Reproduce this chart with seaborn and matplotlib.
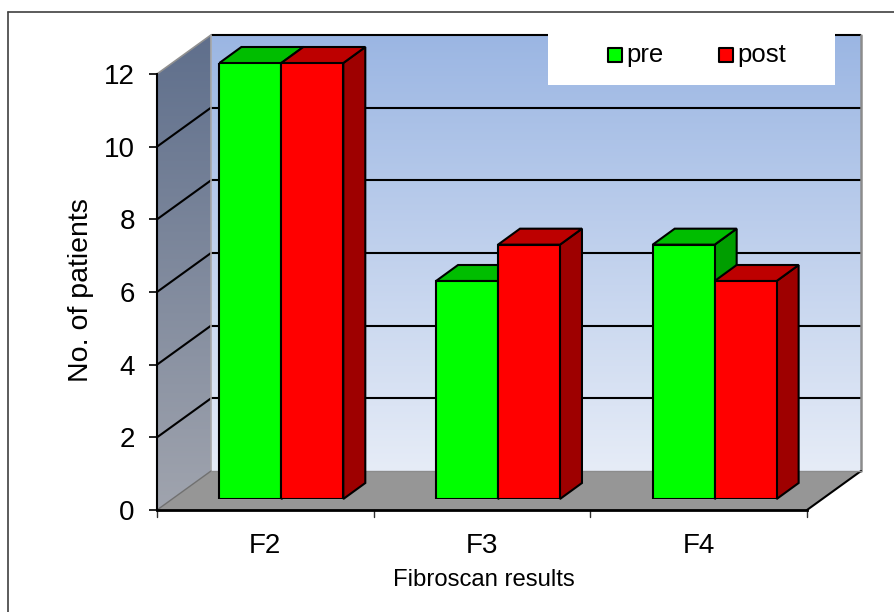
import numpy as np
import pandas as pd
import matplotlib
matplotlib.use('Agg')
import matplotlib.pyplot as plt
from matplotlib.colors import LinearSegmentedColormap
from matplotlib.patches import Polygon, Rectangle
import seaborn as sns

categories = ['F2', 'F3', 'F4']
pre_values = [12, 6, 7]
post_values = [12, 7, 6]
series_names = ['pre', 'post']
y_ticks = [0, 2, 4, 6, 8, 10, 12]

W, H = 895, 612
# передняя плоскость оси, сдвиг задней стенки и глубина столбиков, в пикселях
LEFT, RIGHT, BOTTOM, TOP = 157, 807, 510, 74
WALL_DX, WALL_DY = 54, 39
BAR_DX, BAR_DY = 16, 11
DEPTH_DX, DEPTH_DY = 22, 16

sns.set_theme(style='white')
plt.rcParams['font.family'] = ['Liberation Sans', 'DejaVu Sans']
plt.rcParams['text.color'] = 'black'
plt.rcParams['axes.labelcolor'] = 'black'
plt.rcParams['xtick.color'] = 'black'
plt.rcParams['ytick.color'] = 'black'


def px_axes(fig, x0, x1, y_bottom, y_top, **kw):
    return fig.add_axes([x0 / W, 1 - y_bottom / H, (x1 - x0) / W, (y_bottom - y_top) / H], **kw)


def darker(color, k):
    return tuple(c * k for c in matplotlib.colors.to_rgb(color))


fig = plt.figure(figsize=(W / 100, H / 100), dpi=100, facecolor='white')

# основной слой: пиксельные координаты
bg = fig.add_axes([0, 0, 1, 1], zorder=1)
bg.set_xlim(0, W)
bg.set_ylim(H, 0)
bg.axis('off')
bg.patch.set_alpha(0)

# рамка диаграммы: видны только верхний и левый края
bg.plot([8, 8], [H, 12], color='#404040', lw=1.2, zorder=1)
bg.plot([8, W], [12, 12], color='#404040', lw=1.2, zorder=1)

wall_x0, wall_x1 = LEFT + WALL_DX, RIGHT + WALL_DX
wall_top, wall_bottom = TOP - WALL_DY, BOTTOM - WALL_DY

# задняя стенка с градиентом
wall_cmap = LinearSegmentedColormap.from_list('wall', ['#9BB6E3', '#E6ECF7'])
bg.imshow(np.linspace(0, 1, 256).reshape(-1, 1), cmap=wall_cmap, aspect='auto',
          extent=(wall_x0, wall_x1, wall_bottom, wall_top), zorder=1)

# боковая стенка с градиентом
side_cmap = LinearSegmentedColormap.from_list('side', ['#5F6F8C', '#A0A4AE'])
side_img = bg.imshow(np.linspace(0, 1, 256).reshape(-1, 1), cmap=side_cmap, aspect='auto',
                     extent=(LEFT, wall_x0, BOTTOM, wall_top), zorder=1)
side_poly = Polygon([(LEFT, BOTTOM), (wall_x0, wall_bottom), (wall_x0, wall_top), (LEFT, TOP)],
                    closed=True, transform=bg.transData, fill=False, edgecolor='none')
bg.add_patch(side_poly)
side_img.set_clip_path(side_poly)
bg.set_xlim(0, W)
bg.set_ylim(H, 0)

# пол
bg.add_patch(Polygon([(LEFT, BOTTOM), (RIGHT, BOTTOM), (wall_x1, wall_bottom), (wall_x0, wall_bottom)],
                     closed=True, facecolor='#969696', edgecolor='none', zorder=2))

# сетка на стенках
unit = (BOTTOM - TOP) / max(y_ticks)
for v in y_ticks[1:]:
    y = BOTTOM - v * unit
    bg.plot([wall_x0, wall_x1], [y - WALL_DY] * 2, color='black', lw=1.5, zorder=3, solid_capstyle='butt')
    if v < max(y_ticks):
        bg.plot([LEFT, wall_x0], [y, y - WALL_DY], color='black', lw=1.5, zorder=3)

# края стенок и пола
bg.plot([LEFT, wall_x0], [TOP, wall_top], color='#909090', lw=1.2, zorder=3)
bg.plot([wall_x0, wall_x0], [wall_top, wall_bottom], color='#A8A8A8', lw=1.2, zorder=3)
bg.plot([wall_x1, wall_x1], [wall_top, wall_bottom], color='#8C8C8C', lw=1.8, zorder=3)
bg.plot([LEFT, wall_x0], [BOTTOM, wall_bottom], color='#707070', lw=1, zorder=3)
bg.plot([RIGHT, wall_x1], [BOTTOM, wall_bottom], color='black', lw=1.5, zorder=3)
bg.plot([wall_x0, wall_x1], [wall_bottom, wall_bottom], color='#8C8C8C', lw=1, zorder=3)

# столбики: та же плоскость, сдвинутая внутрь
df = pd.DataFrame({
    'category': categories * 2,
    'series': [series_names[0]] * 3 + [series_names[1]] * 3,
    'value': pre_values + post_values,
})
ax = px_axes(fig, LEFT + BAR_DX, RIGHT + BAR_DX, BOTTOM - BAR_DY, TOP - BAR_DY, zorder=2)
ax.patch.set_alpha(0)
palette = {'pre': '#00FF00', 'post': '#FF0000'}
sns.barplot(data=df, x='category', y='value', hue='series', palette=palette, width=0.572, gap=0,
            saturation=1, legend=False, edgecolor='black', linewidth=1.5, ax=ax, zorder=5)
ax.set_xlim(-0.5, 2.5)
ax.set_ylim(0, max(y_ticks))
ax.axis('off')

depth_x = DEPTH_DX * 3 / (RIGHT - LEFT)
depth_y = DEPTH_DY * max(y_ticks) / (BOTTOM - TOP)
for bar in ax.patches:
    x0, x1, h = bar.get_x(), bar.get_x() + bar.get_width(), bar.get_height()
    if h == 0:
        continue
    color = bar.get_facecolor()
    top = [(x0, h), (x1, h), (x1 + depth_x, h + depth_y), (x0 + depth_x, h + depth_y)]
    side = [(x1, 0), (x1 + depth_x, depth_y), (x1 + depth_x, h + depth_y), (x1, h)]
    ax.add_patch(Polygon(side, closed=True, facecolor=darker(color, 0.62), edgecolor='black',
                         linewidth=1.5, zorder=3, clip_on=False))
    ax.add_patch(Polygon(top, closed=True, facecolor=darker(color, 0.74), edgecolor='black',
                         linewidth=1.5, zorder=3, clip_on=False))

# передняя ось: подписи и деления
front = px_axes(fig, LEFT, RIGHT, BOTTOM, TOP, zorder=3)
front.patch.set_alpha(0)
front.set_xlim(-0.5, 2.5)
front.set_ylim(0, max(y_ticks))
sns.despine(ax=front, top=True, right=True)
front.spines['left'].set_color('black')
front.spines['left'].set_linewidth(1.5)
front.spines['bottom'].set_color('black')
front.spines['bottom'].set_linewidth(2)
front.set_yticks(y_ticks)
front.set_xticks(range(len(categories)))
front.set_xticklabels(categories)
front.xaxis.set_ticks_position('none')
front.tick_params(axis='y', left=True, length=6, width=1.2, color='black', labelsize=20, pad=10)
front.tick_params(axis='x', labelsize=20, pad=16.5, length=0)
for x in [-0.5, 0.5, 1.5, 2.5]:
    front.plot([x, x], [0, -0.016 * max(y_ticks)], color='#303030', lw=1, clip_on=False)
front.set_ylim(0, max(y_ticks))
front.set_xlabel('Fibroscan results', fontsize=17.2, color='black', labelpad=7, x=0.503)
front.set_ylabel('No. of patients', fontsize=20.5, color='black', labelpad=7, y=0.505)

# легенда
over = fig.add_axes([0, 0, 1, 1], zorder=4)
over.set_xlim(0, W)
over.set_ylim(H, 0)
over.axis('off')
over.patch.set_alpha(0)
over.add_patch(Rectangle((548, 30), 287, 55, facecolor='white', edgecolor='none'))
for name, mx in zip(series_names, [615, 726]):
    over.scatter([mx], [55], marker='s', s=110, facecolor=palette[name], edgecolor='black', linewidth=1.5)
    over.text(mx + 11, 55, name, fontsize=18.5, va='center', ha='left', color='black')

fig.savefig('out.png', dpi=100)
plt.close(fig)
